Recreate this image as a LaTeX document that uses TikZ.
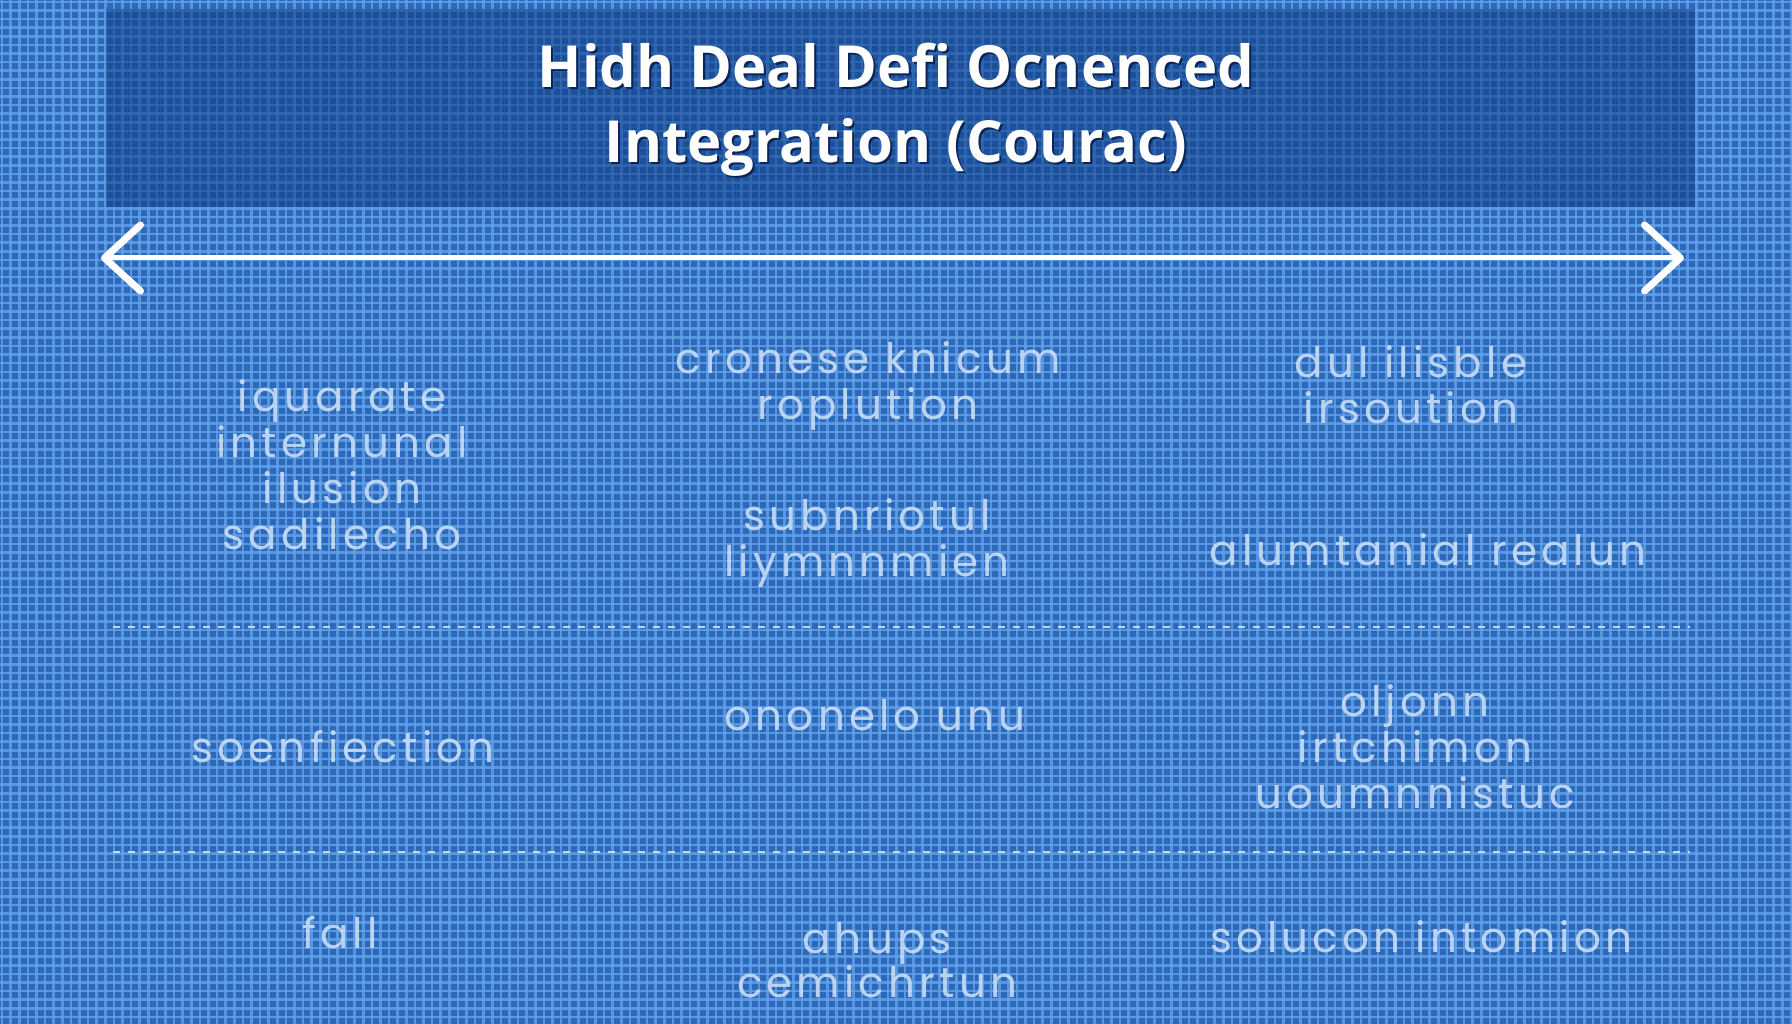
\documentclass[tikz,border=0pt]{standalone}
\usepackage{fontspec}
\setmainfont{Poppins}[LetterSpace=10]
\newfontfamily\titlefont{Open Sans}
\usetikzlibrary{arrows.meta}
\definecolor{bgblue}{HTML}{2D69B8}
\definecolor{gridblue}{HTML}{62A2EA}
\definecolor{bannerblue}{HTML}{0E3B82}
\definecolor{txtblue}{HTML}{CFE2F8}
\definecolor{shadowblue}{HTML}{0A2458}
\tikzset{
  celltext/.style={text=txtblue, opacity=0.86, align=center, inner sep=0pt,
    font=\fontsize{42}{46}\selectfont},
  titletext/.style={text=white, align=center, inner sep=0pt,
    font=\titlefont\bfseries\fontsize{58}{75}\selectfont},
  titleshadow/.style={text=shadowblue, align=center, inner sep=0pt,
    font=\titlefont\bfseries\fontsize{58}{75}\selectfont},
  divider/.style={txtblue, line width=2.2pt, dash pattern=on 7pt off 8pt, opacity=0.9},
  gridline/.style={gridblue, line width=2.6pt, opacity=0.8},
  bigarrow/.style={white, line width=5pt,
    {Straight Barb[length=36pt,width=66pt,line width=7pt,round]}-{Straight Barb[length=36pt,width=66pt,line width=7pt,round]}}
}
\begin{document}
\begin{tikzpicture}[x=1pt,y=-1pt]
\useasboundingbox (0,0) rectangle (1792,1024);
% background grid
\fill[bgblue] (0,0) rectangle (1792,1024);
\foreach \i in {0,...,208} {
  \draw[gridline] (\i*8.6+2,0) -- (\i*8.6+2,1024);
}
\foreach \j in {0,...,119} {
  \draw[gridline] (0,\j*8.6+2) -- (1792,\j*8.6+2);
}
% banner
\fill[bannerblue, opacity=0.55] (106,9) rectangle (1695,207);
\node[titleshadow] at (898,112) {Hidh Deal Defi Ocnenced\\Integration (Courac)};
\node[titletext] (title) at (896,110) {Hidh Deal Defi Ocnenced\\Integration (Courac)};
% double arrow
\coordinate (la) at (101,258);
\coordinate (ra) at (1684,258);
\draw[bigarrow] (la) -- (ra);
% dividers
\coordinate (d1l) at (113,627);
\coordinate (d1r) at (1690,627);
\coordinate (d2l) at (113,852);
\coordinate (d2r) at (1690,852);
\draw[divider] (d1l) -- (d1r);
\draw[divider] (d2l) -- (d2r);
% row 1
\node[celltext] (c11) at (342,465) {iquarate\\internunal\\ilusion\\sadilecho};
\node[celltext] (c12a) at (868,386) {cronese knicum\\roplution};
\node[celltext] (c12b) at (867,543) {subnriotul\\liymnnmien};
\node[celltext] (c13a) at (1411,385) {dul ilisble\\irsoution};
\node[celltext] (c13b) at (1428,550) {alumtanial realun};
% row 2
\node[celltext] (c21) at (343,747) {soenfiection};
\node[celltext] (c22) at (875,715) {ononelo unu};
\node[celltext] (c23) at (1415,747) {oljonn\\irtchimon\\uoumnnistuc};
% row 3
\node[celltext] (c31) at (340,933) {fall};
\node[celltext, font=\fontsize{42}{41}\selectfont] (c32) at (877,960) {ahups\\cemichrtun};
\node[celltext] (c33) at (1421,937) {solucon intomion};
\end{tikzpicture}
\end{document}
